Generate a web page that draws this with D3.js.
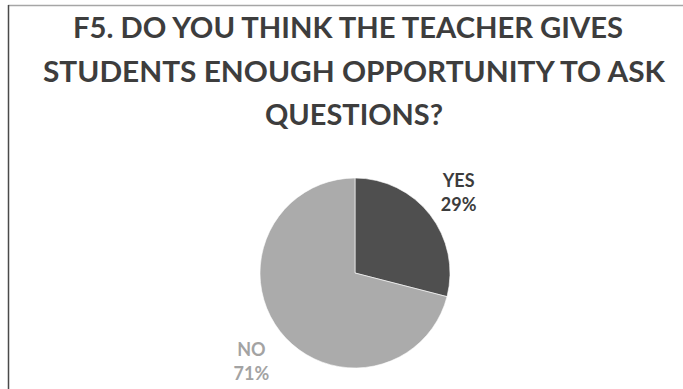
<!DOCTYPE html>
<html>
<head>
<meta charset="utf-8">
<script src="https://cdn.jsdelivr.net/npm/d3@7"></script>
<style>
  html, body { margin: 0; padding: 0; background: #ffffff; }
  svg { display: block; }
</style>
</head>
<body>
<svg id="chart" width="683" height="389"></svg>
<script>
// Survey answers for question F5
const titleLines = [
  "F5. DO YOU THINK THE TEACHER GIVES",
  "STUDENTS ENOUGH OPPORTUNITY TO ASK",
  "QUESTIONS?"
];
const categories = ["YES", "NO"];
const percentages = [29, 71];
const sliceColors = ["#4f4f4f", "#ababab"];
const labelColors = ["#3c3c3c", "#a3a3a3"];

const W = 683, H = 389;
const svg = d3.select("#chart");

// Frame edges (top rule and left rule)
svg.append("line")
  .attr("x1", 8).attr("x2", W).attr("y1", 5.5).attr("y2", 5.5)
  .attr("stroke", "#a6a6a6").attr("stroke-width", 1.5);
svg.append("line")
  .attr("x1", 8.5).attr("x2", 8.5).attr("y1", 5).attr("y2", H)
  .attr("stroke", "#4a4a4a").attr("stroke-width", 1.5);

// Title, three centred lines
const titleWidths = [550, 622, 178];
const titleG = svg.append("g")
  .attr("font-family", "Lato, 'Open Sans', sans-serif")
  .attr("font-weight", "bold")
  .attr("font-size", 28)
  .attr("fill", "#3d3d3d")
  .attr("text-anchor", "middle");
titleG.selectAll("text")
  .data(titleLines)
  .join("text")
  .attr("x", (d, i) => i === 0 ? 348 : 354)
  .attr("y", (d, i) => 38 + i * 43.5)
  .attr("textLength", (d, i) => titleWidths[i])
  .attr("lengthAdjust", "spacingAndGlyphs")
  .text(d => d);

// Pie
const cx = 355, cy = 273, r = 95;
const data = categories.map((c, i) => ({ name: c, value: percentages[i], color: sliceColors[i], labelColor: labelColors[i] }));

const pie = d3.pie().value(d => d.value).sort(null);
const arcs = pie(data);
const arc = d3.arc().innerRadius(0).outerRadius(r);
const labelArc = d3.arc().innerRadius(r * 1.38).outerRadius(r * 1.38);

const g = svg.append("g").attr("transform", `translate(${cx},${cy})`);
g.selectAll("path")
  .data(arcs)
  .join("path")
  .attr("d", arc)
  .attr("fill", d => d.data.color)
  .attr("stroke", "#ffffff")
  .attr("stroke-width", 0.6);

// Category and percentage labels outside each slice
const lab = g.selectAll("g.lab")
  .data(arcs)
  .join("g")
  .attr("class", "lab")
  .attr("transform", d => {
    const [x, y] = labelArc.centroid(d);
    return `translate(${x},${y + (y > 0 ? 8 : 0)})`;
  })
  .attr("font-family", "Lato, 'Open Sans', sans-serif")
  .attr("font-weight", "bold")
  .attr("font-size", 18)
  .attr("text-anchor", "middle")
  .attr("fill", d => d.data.labelColor);

lab.append("text")
  .attr("y", -5.5)
  .text(d => d.data.name);
lab.append("text")
  .attr("y", 18.5)
  .text(d => d.data.value + "%");
</script>
</body>
</html>
